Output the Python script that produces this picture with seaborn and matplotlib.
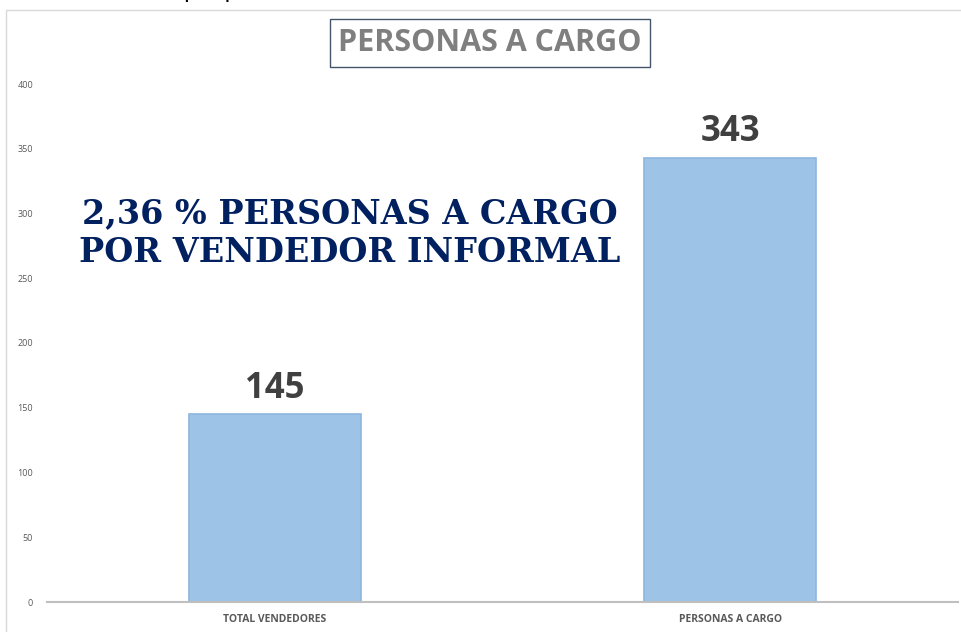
import matplotlib
matplotlib.use("Agg")
import matplotlib.pyplot as plt
import seaborn as sns
import pandas as pd
from matplotlib.patches import Rectangle

categorias = ["TOTAL VENDEDORES", "PERSONAS A CARGO"]
valores = [145, 343]
titulo = "PERSONAS A CARGO"
nota = "2,36 % PERSONAS A CARGO\nPOR VENDEDOR INFORMAL"
fuente = "Elaboración propia"
ticks_y = [0, 50, 100, 150, 200, 250, 300, 350, 400]

sns.set_theme(style="white")
plt.rcParams["font.family"] = ["Open Sans", "DejaVu Sans"]

df = pd.DataFrame({"categoria": categorias, "valor": valores})

fig = plt.figure(figsize=(9.61, 6.32), dpi=100)
ax = fig.add_axes([47 / 961, 1 - 602 / 632, 911 / 961, (602 - 84) / 632])

sns.barplot(data=df, x="categoria", y="valor", ax=ax, color="#9dc3e6",
            width=0.378, edgecolor="#8cb6df", linewidth=1.2, saturation=1)

ax.set_xlim(-0.5, 1.5)
ax.set_ylim(0, 400)
ax.set_yticks(ticks_y)
ax.set_xlabel("")
ax.set_ylabel("")
ax.tick_params(axis="y", labelsize=6.5, colors="#595959", length=0, pad=10)
ax.tick_params(axis="x", labelsize=7.5, colors="#595959", length=0, pad=9)
for lbl in ax.get_xticklabels():
    lbl.set_fontweight("bold")
for s in ["top", "right", "left"]:
    ax.spines[s].set_visible(False)
ax.spines["bottom"].set_color("#bfbfbf")
ax.spines["bottom"].set_linewidth(1.5)

# etiquetas de valor
for i, v in enumerate(valores):
    ax.annotate(str(v), (i, v), xytext=(0, 12), textcoords="offset points",
                ha="center", va="baseline", fontsize=25, fontweight="bold",
                color="#404040")

# texto resaltado
fig.text(350 / 961, 1 - 233 / 632, nota, ha="center", va="center",
         fontsize=24, fontweight="bold", color="#002060",
         family=["DejaVu Serif"], linespacing=1.22)

# titulo con recuadro
fig.text(490 / 961, 1 - 43 / 632, titulo, ha="center", va="center",
         fontsize=22, fontweight="bold", color="#7f7f7f",
         bbox=dict(boxstyle="square,pad=0.28", fc="white", ec="#44546a", lw=1))

# marco del grafico
fig.patches.append(Rectangle((6 / 961, -0.01), 960 / 961, 1 - 10 / 632 + 0.01,
                             transform=fig.transFigure, fill=False,
                             ec="#d9d9d9", lw=1))

# fuente cortada arriba (como en el original)
fig.text(40 / 961, 1 + 4 / 632, fuente, ha="left", va="baseline",
         fontsize=18, color="black")

fig.savefig("out.png", dpi=100)
